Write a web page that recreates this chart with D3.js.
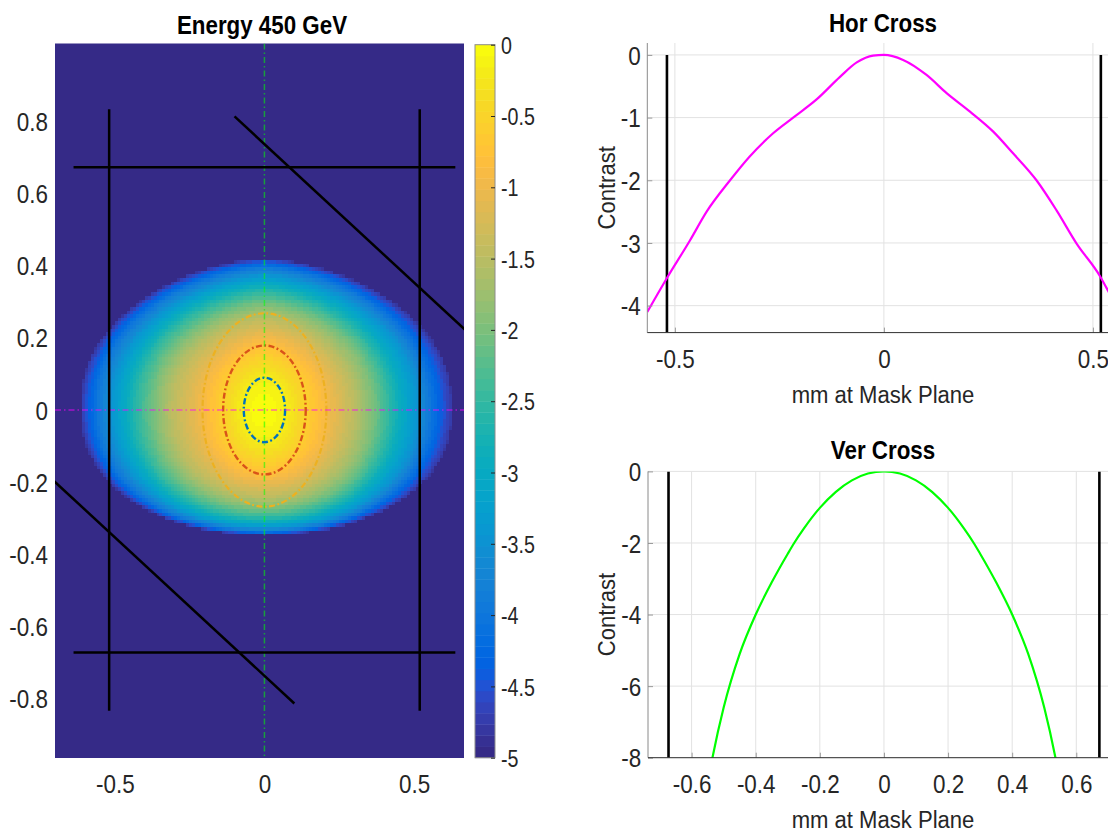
<!DOCTYPE html>
<html>
<head>
<meta charset="utf-8">
<script src="https://cdn.jsdelivr.net/npm/d3@7"></script>
<style>
  body { margin: 0; background: #fff; }
  svg { display: block; font-family: "Liberation Sans", Arial, Helvetica, sans-serif; }
</style>
</head>
<body>
<svg id="fig" width="1108" height="832"></svg>
<script>
// ---------------- data ----------------
// Contrast map: extent (mm) of each contrast level along the four half-axes
const contrastLevels = [0, -0.1, -0.25, -0.5, -1, -1.5, -2, -2.5, -3, -3.5, -4, -4.5, -4.8];
const extentLeft   = [0, 0.060, 0.092, 0.130, 0.217, 0.310, 0.368, 0.424, 0.467, 0.515, 0.560, 0.595, 0.615];
const extentRight  = [0, 0.052, 0.088, 0.128, 0.220, 0.300, 0.365, 0.415, 0.460, 0.515, 0.555, 0.600, 0.628];
const extentTop    = [0, 0.063, 0.100, 0.140, 0.205, 0.255, 0.292, 0.324, 0.350, 0.374, 0.396, 0.412, 0.420];
const extentBottom = [0, 0.063, 0.100, 0.140, 0.198, 0.242, 0.272, 0.296, 0.314, 0.327, 0.337, 0.343, 0.347];
const floorContrast = -5;

// Beam size (mm) and the sigma ellipses drawn on the map
const sigmaX = 0.069, sigmaY = 0.0893;
const sigmaMultiples = [3, 2, 1];
const sigmaColors = ["#EDB120", "#D95319", "#0072BD"];

// Mask outline (mm)
const maskHalfWidth = 0.519;
const maskHalfHeight = 0.672;
const maskVertReach = 0.833;
const maskHorzReach = 0.638;
const diagUpper = [[-0.1, 0.813], [0.9, 0.046]];
const diagLower = [[-0.9, -0.046], [0.1, -0.813]];

// Horizontal cut through the map
const horX = [-0.566, -0.52, -0.464, -0.424, -0.368, -0.321, -0.265, -0.217, -0.161, -0.105, -0.065, -0.026, 0,
              0.046, 0.102, 0.15, 0.206, 0.261, 0.309, 0.365, 0.413, 0.461, 0.517, 0.536, 0.566];
const horContrast = [-4.10, -3.57, -2.96, -2.50, -2.00, -1.62, -1.25, -1.00, -0.71, -0.35, -0.12, -0.01, 0,
              -0.08, -0.32, -0.61, -0.905, -1.22, -1.57, -2.00, -2.48, -3.01, -3.53, -3.76, -4.15];

// Vertical cut through the map
const verY = [-0.56, -0.535, -0.5, -0.45, -0.4, -0.35, -0.3, -0.28, -0.25, -0.2, -0.15, -0.1, -0.05, 0,
              0.05, 0.1, 0.15, 0.2, 0.25, 0.28, 0.3, 0.35, 0.4, 0.45, 0.5, 0.535, 0.56];
const verContrast = [-9.2, -8.0, -6.6, -5.1, -4.0, -3.1, -2.3, -2.0, -1.6, -1.02, -0.57, -0.25, -0.06, 0,
              -0.06, -0.25, -0.57, -1.02, -1.6, -2.0, -2.3, -3.1, -4.0, -5.1, -6.6, -8.0, -9.2];

// Tick values
const mapXTicks = [-0.5, 0, 0.5];
const mapYTicks = [-0.8, -0.6, -0.4, -0.2, 0, 0.2, 0.4, 0.6, 0.8];
const colorbarTicks = [0, -0.5, -1, -1.5, -2, -2.5, -3, -3.5, -4, -4.5, -5];
const horXTicks = [-0.5, 0, 0.5];
const horYTicks = [0, -1, -2, -3, -4];
const verXTicks = [-0.6, -0.4, -0.2, 0, 0.2, 0.4, 0.6];
const verYTicks = [0, -2, -4, -6, -8];

// ---------------- colormap (parula, 64 entries) ----------------
const parula = [
[0.2081,0.1663,0.5292],[0.2116,0.1898,0.5777],[0.2123,0.2138,0.6270],[0.2081,0.2386,0.6771],
[0.1959,0.2645,0.7279],[0.1707,0.2919,0.7792],[0.1253,0.3242,0.8303],[0.0591,0.3598,0.8683],
[0.0117,0.3875,0.8820],[0.0060,0.4086,0.8828],[0.0165,0.4266,0.8786],[0.0329,0.4430,0.8720],
[0.0498,0.4586,0.8641],[0.0629,0.4737,0.8554],[0.0723,0.4887,0.8467],[0.0779,0.5040,0.8384],
[0.0793,0.5200,0.8312],[0.0749,0.5375,0.8263],[0.0641,0.5570,0.8240],[0.0488,0.5772,0.8228],
[0.0343,0.5966,0.8199],[0.0265,0.6137,0.8135],[0.0239,0.6287,0.8038],[0.0231,0.6418,0.7913],
[0.0228,0.6535,0.7768],[0.0267,0.6642,0.7607],[0.0384,0.6743,0.7436],[0.0590,0.6838,0.7254],
[0.0843,0.6928,0.7062],[0.1133,0.7015,0.6859],[0.1453,0.7098,0.6646],[0.1801,0.7177,0.6424],
[0.2178,0.7250,0.6193],[0.2586,0.7317,0.5954],[0.3022,0.7376,0.5712],[0.3482,0.7424,0.5473],
[0.3953,0.7459,0.5244],[0.4420,0.7481,0.5033],[0.4871,0.7491,0.4840],[0.5300,0.7491,0.4661],
[0.5709,0.7485,0.4494],[0.6099,0.7473,0.4337],[0.6473,0.7456,0.4188],[0.6834,0.7435,0.4044],
[0.7184,0.7411,0.3905],[0.7525,0.7384,0.3768],[0.7858,0.7356,0.3633],[0.8185,0.7327,0.3498],
[0.8507,0.7299,0.3360],[0.8824,0.7274,0.3217],[0.9139,0.7258,0.3063],[0.9450,0.7261,0.2886],
[0.9739,0.7314,0.2666],[0.9938,0.7455,0.2403],[0.9990,0.7653,0.2164],[0.9955,0.7861,0.1967],
[0.9880,0.8066,0.1794],[0.9789,0.8271,0.1633],[0.9697,0.8481,0.1475],[0.9626,0.8705,0.1309],
[0.9589,0.8949,0.1132],[0.9598,0.9218,0.0948],[0.9661,0.9514,0.0755],[0.9763,0.9831,0.0538]
];
const cmin = -5, cmax = 0;
function colorIndex(v) {
  return Math.max(0, Math.min(63, Math.floor((v - cmin) / (cmax - cmin) * 64)));
}
const rgbStr = c => `rgb(${Math.round(c[0]*255)},${Math.round(c[1]*255)},${Math.round(c[2]*255)})`;

// ---------------- helpers ----------------
const svg = d3.select("#fig");
svg.append("rect").attr("width", 1108).attr("height", 832).attr("fill", "#fff");

const tickFmt = d => { const r = Math.round(d * 10) / 10; return (r === 0 ? 0 : r).toString(); };
const TICK_FS = 25.5, TICK_SX = 0.88;

// narrow the tick label glyphs horizontally around their own anchor
function styleTickText(sel, fs, sx) {
  sel.attr("font-size", fs).attr("fill", "#262626").attr("font-family", null)
     .each(function () {
       const t = d3.select(this);
       const x = +t.attr("x") || 0;
       t.attr("x", x / sx).attr("transform", `scale(${sx},1)`);
     });
}
function label(parent, text, x, y, opts) {
  const g = parent.append("g").attr("transform", `translate(${x},${y})${opts.rotate ? " rotate(" + opts.rotate + ")" : ""}`);
  g.append("text").text(text)
    .attr("text-anchor", "middle")
    .attr("font-size", opts.size)
    .attr("font-weight", opts.bold ? "bold" : "normal")
    .attr("fill", opts.color || "#000")
    .attr("transform", `scale(${opts.sx},1)`);
}

// ---------------- contrast map ----------------
const mx = d3.scaleLinear().domain([-0.7, 0.667]).range([55, 464]);
const my = d3.scaleLinear().domain([-0.964, 1.015]).range([758, 43.5]);

// level-set shape exponents: [x-term, y-term] for the upper and lower halves
const shapeUpper = [1.6, 2.3];
const shapeLower = [2.1, 2.2];
function extentAt(arr, c) {
  for (let i = 1; i < contrastLevels.length; i++) {
    const a = contrastLevels[i - 1], b = contrastLevels[i];
    if (c >= b) { const t = (a - c) / (a - b); return arr[i - 1] + t * (arr[i] - arr[i - 1]); }
  }
  return arr[arr.length - 1];
}
function contrastAt(x, y) {
  const ax = x < 0 ? extentLeft : extentRight;
  const ay = y < 0 ? extentBottom : extentTop;
  const [ex, ey] = y < 0 ? shapeLower : shapeUpper;
  const g = c => Math.pow(Math.abs(x) / Math.max(extentAt(ax, c), 1e-9), ex) +
                 Math.pow(Math.abs(y) / Math.max(extentAt(ay, c), 1e-9), ey);
  const cLow = contrastLevels[contrastLevels.length - 1];
  if (g(cLow) > 1) return floorContrast;
  let lo = cLow, hi = 0;
  for (let k = 0; k < 28; k++) {
    const mid = (lo + hi) / 2;
    if (g(mid) > 1) hi = mid; else lo = mid;
  }
  return (lo + hi) / 2;
}

const [dx0, dx1] = mx.domain(), [dy0, dy1] = my.domain();
const cell = 0.01;
const nx = Math.round((dx1 - dx0) / cell), ny = Math.round((dy1 - dy0) / cell);
const canvas = document.createElement("canvas");
canvas.width = nx; canvas.height = ny;
const ctx = canvas.getContext("2d");
const img = ctx.createImageData(nx, ny);
for (let j = 0; j < ny; j++) {
  const y = dy1 - (j + 0.5) * (dy1 - dy0) / ny;
  for (let i = 0; i < nx; i++) {
    const x = dx0 + (i + 0.5) * (dx1 - dx0) / nx;
    const c = parula[colorIndex(contrastAt(x, y))];
    const p = 4 * (j * nx + i);
    img.data[p] = Math.round(c[0] * 255);
    img.data[p + 1] = Math.round(c[1] * 255);
    img.data[p + 2] = Math.round(c[2] * 255);
    img.data[p + 3] = 255;
  }
}
ctx.putImageData(img, 0, 0);

const mapG = svg.append("g");
mapG.append("clipPath").attr("id", "mapClip").append("rect")
  .attr("x", mx(dx0)).attr("y", my(dy1)).attr("width", mx(dx1) - mx(dx0)).attr("height", my(dy0) - my(dy1));
mapG.append("image")
  .attr("href", canvas.toDataURL())
  .attr("x", mx(dx0)).attr("y", my(dy1))
  .attr("width", mx(dx1) - mx(dx0)).attr("height", my(dy0) - my(dy1))
  .attr("preserveAspectRatio", "none")
  .style("image-rendering", "pixelated");

const over = mapG.append("g").attr("clip-path", "url(#mapClip)");
// sigma ellipses
over.selectAll("ellipse.sig").data(sigmaMultiples).join("ellipse")
  .attr("class", "sig")
  .attr("cx", mx(0)).attr("cy", my(0))
  .attr("rx", k => mx(k * sigmaX) - mx(0))
  .attr("ry", k => my(0) - my(k * sigmaY))
  .attr("fill", "none")
  .attr("stroke", (k, i) => sigmaColors[i])
  .attr("stroke-width", (k, i) => i === 0 ? 2.2 : 2.4)
  .attr("stroke-dasharray", "6,2.5,1.8,2.5");
// cross-hair cuts
over.append("line").attr("x1", mx(0)).attr("x2", mx(0)).attr("y1", my(dy1)).attr("y2", my(dy0))
  .attr("stroke", "#00ff00").attr("stroke-opacity", 0.55).attr("stroke-width", 1.5).attr("stroke-dasharray", "6,3,1.5,3");
over.append("line").attr("x1", mx(dx0)).attr("x2", mx(dx1)).attr("y1", my(0)).attr("y2", my(0))
  .attr("stroke", "#ff00ff").attr("stroke-opacity", 0.55).attr("stroke-width", 1.5).attr("stroke-dasharray", "6,3,1.5,3");
// mask outline
const maskSegs = [
  [[-maskHalfWidth, -maskVertReach], [-maskHalfWidth, maskVertReach]],
  [[maskHalfWidth, -maskVertReach], [maskHalfWidth, maskVertReach]],
  [[-maskHorzReach, maskHalfHeight], [maskHorzReach, maskHalfHeight]],
  [[-maskHorzReach, -maskHalfHeight], [maskHorzReach, -maskHalfHeight]],
  diagUpper, diagLower
];
over.selectAll("line.mask").data(maskSegs).join("line").attr("class", "mask")
  .attr("x1", d => mx(d[0][0])).attr("y1", d => my(d[0][1]))
  .attr("x2", d => mx(d[1][0])).attr("y2", d => my(d[1][1]))
  .attr("stroke", "#000").attr("stroke-width", 2.5);

// map axes (labels only)
const mapXAxis = mapG.append("g").attr("transform", `translate(0,${my(dy0)})`)
  .call(d3.axisBottom(mx).tickValues(mapXTicks).tickFormat(tickFmt).tickSize(0));
mapXAxis.select(".domain").remove();
mapXAxis.selectAll("text").attr("y", 35.5).attr("dy", 0);
styleTickText(mapXAxis.selectAll("text"), TICK_FS, TICK_SX);
mapXAxis.attr("font-size", null).attr("font-family", null);

const mapYAxis = mapG.append("g").attr("transform", `translate(${mx(dx0)},0)`)
  .call(d3.axisLeft(my).tickValues(mapYTicks).tickFormat(tickFmt).tickSize(0).tickPadding(7));
mapYAxis.select(".domain").remove();
mapYAxis.selectAll("text").attr("dy", "0.36em");
styleTickText(mapYAxis.selectAll("text"), TICK_FS, TICK_SX);
mapYAxis.attr("font-size", null).attr("font-family", null);

label(svg, "Energy 450 GeV", 262, 34, { size: 26, bold: true, sx: 0.86 });

// ---------------- colorbar ----------------
const cbY = d3.scaleLinear().domain([cmin, cmax]).range([757.7, 44.7]);
const cbX0 = 475, cbX1 = 495;
const cbSteps = d3.range(64).map(i => ({ lo: cmin + i * (cmax - cmin) / 64, hi: cmin + (i + 1) * (cmax - cmin) / 64, i }));
const cbG = svg.append("g");
cbG.selectAll("rect.band").data(cbSteps).join("rect").attr("class", "band")
  .attr("x", cbX0).attr("width", cbX1 - cbX0)
  .attr("y", d => cbY(d.hi)).attr("height", d => cbY(d.lo) - cbY(d.hi) + 0.4)
  .attr("fill", d => rgbStr(parula[d.i]));
cbG.append("rect").attr("x", cbX0).attr("y", cbY(cmax)).attr("width", cbX1 - cbX0).attr("height", cbY(cmin) - cbY(cmax))
  .attr("fill", "none").attr("stroke", "#8c8c8c").attr("stroke-width", 1);
const cbAxis = cbG.append("g").attr("transform", `translate(${cbX1},0)`)
  .call(d3.axisRight(cbY).tickValues(colorbarTicks).tickFormat(tickFmt).tickSizeInner(-4).tickSizeOuter(0).tickPadding(6));
cbAxis.select(".domain").remove();
cbAxis.selectAll(".tick line").attr("stroke", "#262626");
cbAxis.selectAll("text").attr("dy", "0.36em");
styleTickText(cbAxis.selectAll("text"), 24, 0.82);
cbAxis.attr("font-size", null).attr("font-family", null);

// ---------------- cross-section panels ----------------
function crossPanel(cfg) {
  const { x, y, xTicks, yTicks, xs, ys, color, maskAt, id, title, titleY, xLabelY } = cfg;
  const g = svg.append("g");
  const [xl, xr] = x.range();
  const [yb, yt] = y.range();

  g.append("clipPath").attr("id", id).append("rect")
    .attr("x", xl).attr("y", yt).attr("width", xr - xl).attr("height", yb - yt);

  // grid
  g.append("g").selectAll("line").data(xTicks).join("line")
    .attr("x1", d => x(d)).attr("x2", d => x(d)).attr("y1", yt).attr("y2", yb)
    .attr("stroke", "#e2e2e2").attr("stroke-width", 1);
  g.append("g").selectAll("line").data(yTicks).join("line")
    .attr("x1", xl).attr("x2", xr).attr("y1", d => y(d)).attr("y2", d => y(d))
    .attr("stroke", "#e2e2e2").attr("stroke-width", 1);

  const plot = g.append("g").attr("clip-path", `url(#${id})`);
  // mask edges
  plot.selectAll("line.edge").data([-maskAt, maskAt]).join("line").attr("class", "edge")
    .attr("x1", d => x(d)).attr("x2", d => x(d)).attr("y1", y(0)).attr("y2", yb)
    .attr("stroke", "#000").attr("stroke-width", 2.6);
  // profile
  const pts = xs.map((v, i) => [v, ys[i]]);
  plot.append("path").datum(pts)
    .attr("d", d3.line().x(d => x(d[0])).y(d => y(d[1])).curve(d3.curveMonotoneX))
    .attr("fill", "none").attr("stroke", color).attr("stroke-width", 2.2);

  // axes
  const xa = g.append("g").attr("transform", `translate(0,${yb})`)
    .call(d3.axisBottom(x).tickValues(xTicks).tickFormat(tickFmt).tickSizeInner(-5).tickSizeOuter(0));
  xa.select(".domain").remove();
  xa.selectAll(".tick line").attr("stroke", "#9a9a9a");
  xa.selectAll("text").attr("y", 35.5).attr("dy", 0);
  styleTickText(xa.selectAll("text"), TICK_FS, TICK_SX);
  xa.attr("font-size", null).attr("font-family", null);

  const ya = g.append("g").attr("transform", `translate(${xl},0)`)
    .call(d3.axisLeft(y).tickValues(yTicks).tickFormat(tickFmt).tickSizeInner(-5).tickSizeOuter(0).tickPadding(6.7));
  ya.select(".domain").remove();
  ya.selectAll(".tick line").attr("stroke", "#9a9a9a");
  ya.selectAll("text").attr("dy", "0.36em");
  styleTickText(ya.selectAll("text"), TICK_FS, TICK_SX);
  ya.attr("font-size", null).attr("font-family", null);

  g.append("line").attr("x1", xl).attr("x2", xl).attr("y1", yt).attr("y2", yb)
    .attr("stroke", "#8a8a8a").attr("stroke-width", 1);
  g.append("line").attr("x1", xl).attr("x2", xr).attr("y1", yb).attr("y2", yb)
    .attr("stroke", "#303030").attr("stroke-width", 1);

  label(svg, title, 883, titleY, { size: 26, bold: true, sx: 0.86 });
  label(svg, "mm at Mask Plane", 883, xLabelY, { size: 23, sx: 0.96, color: "#262626" });
  label(svg, "Contrast", 615, (yt + yb) / 2, { size: 23, sx: 0.96, rotate: -90, color: "#262626" });
}

crossPanel({
  id: "horClip",
  x: d3.scaleLinear().domain([-0.566, 0.566]).range([647.3, 1120.5]),
  y: d3.scaleLinear().domain([-4.43, 0.19]).range([332.6, 43]),
  xTicks: horXTicks, yTicks: horYTicks,
  xs: horX, ys: horContrast, color: "#ff00ff",
  maskAt: maskHalfWidth,
  title: "Hor Cross", titleY: 32, xLabelY: 403
});

crossPanel({
  id: "verClip",
  x: d3.scaleLinear().domain([-0.736, 0.736]).range([648, 1119.9]),
  y: d3.scaleLinear().domain([-8, 0]).range([757.7, 471.4]),
  xTicks: verXTicks, yTicks: verYTicks,
  xs: verY, ys: verContrast, color: "#00ff00",
  maskAt: maskHalfHeight,
  title: "Ver Cross", titleY: 458.6, xLabelY: 827.5
});
</script>
</body>
</html>
